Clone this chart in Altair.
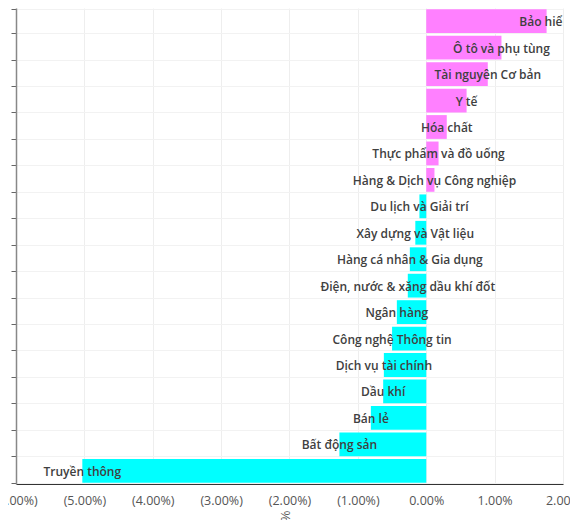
import altair as alt
import pandas as pd

sectors = [
    "Bảo hiểm", "Ô tô và phụ tùng", "Tài nguyên Cơ bản", "Y tế", "Hóa chất",
    "Thực phẩm và đồ uống", "Hàng & Dịch vụ Công nghiệp", "Du lịch và Giải trí",
    "Xây dựng và Vật liệu", "Hàng cá nhân & Gia dụng", "Điện, nước & xăng dầu khí đốt",
    "Ngân hàng", "Công nghệ Thông tin", "Dịch vụ tài chính", "Dầu khí", "Bán lẻ",
    "Bất động sản", "Truyền thông",
]
changes_pct = [
    1.76, 1.10, 0.90, 0.59, 0.30, 0.18, 0.12, -0.10, -0.16, -0.24, -0.27,
    -0.43, -0.50, -0.62, -0.63, -0.81, -1.27, -5.03,
]
x_ticks = [-0.06, -0.05, -0.04, -0.03, -0.02, -0.01, 0.0, 0.01, 0.02]

df = pd.DataFrame({"sector": sectors, "value": [v / 100 for v in changes_pct]})

y_enc = alt.Y(
    "sector:N",
    sort=sectors,
    title=None,
    scale=alt.Scale(paddingInner=0.1, paddingOuter=0.05),
    axis=alt.Axis(
        labels=False, ticks=True, tickSize=5, tickBand="extent",
        domainColor="#888888", tickColor="#666666", grid=True,
        gridColor="#f2f2f2", domainWidth=1.5,
    ),
)
x_enc = alt.X(
    "value:Q",
    title="%",
    scale=alt.Scale(domain=[-0.06, 0.02], nice=False),
    axis=alt.Axis(
        values=x_ticks,
        labelExpr="datum.value < -0.00001 ? '(' + format(-datum.value, '.2%') + ')' : format(abs(datum.value), '.2%')",
        ticks=False, domainColor="#333333", grid=True, gridColor="#eeeeee",
        labelFont="Open Sans", labelFontSize=12.5, labelColor="#555555",
        labelFlush=False, labelOverlap=False,
        labelPadding=10, titleAngle=90, titleFontSize=12, titleColor="#555555",
        titleFontWeight="normal", titlePadding=9,
    ),
)

bars = alt.Chart(df).mark_bar().encode(
    y=y_enc,
    x=x_enc,
    color=alt.condition(alt.datum.value > 0, alt.value("#FF80FF"), alt.value("#00FFFF")),
)

labels = alt.Chart(df).mark_text(
    align="center", baseline="middle", clip=True, dy=1,
    font="Open Sans", fontWeight=600, fontSize=12, color="#404040",
).encode(
    y=alt.Y("sector:N", sort=sectors),
    x=alt.X("value:Q"),
    text="sector:N",
)

chart = (bars + labels).properties(
    width=547, height=476,
    autosize=alt.AutoSizeParams(type="none"),
    padding={"left": 8, "top": 0, "right": 7, "bottom": 36},
).configure_view(stroke=None)

chart.save("out.html", embed_options={"renderer": "svg", "actions": False})
